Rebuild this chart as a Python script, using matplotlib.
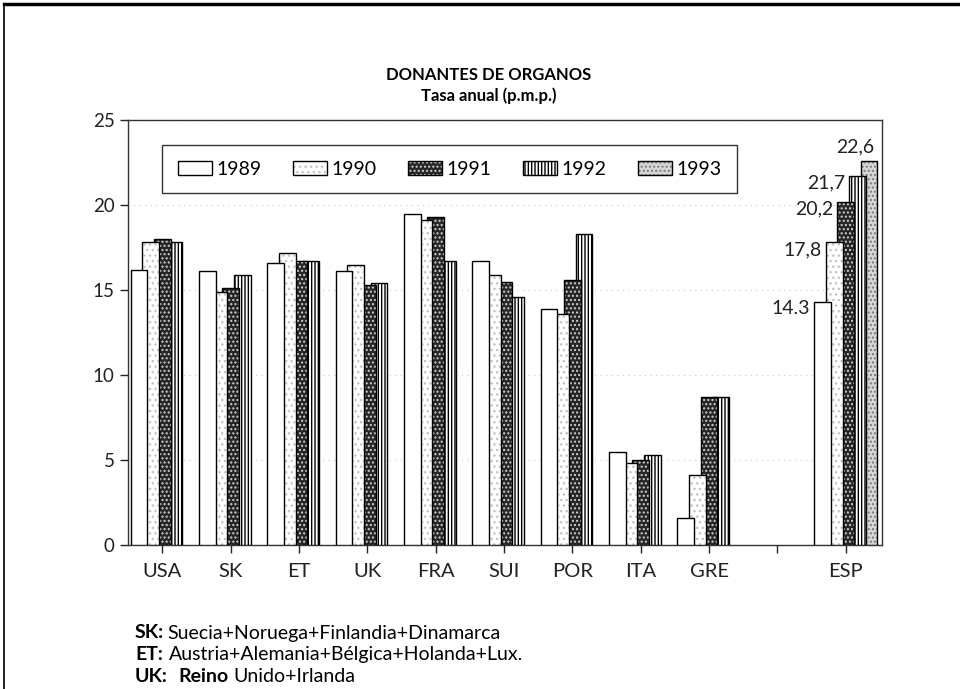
import numpy as np
import matplotlib
matplotlib.use("Agg")
import matplotlib.pyplot as plt
from matplotlib.patches import Patch
from matplotlib.lines import Line2D
from matplotlib.text import Annotation

plt.rcParams['font.family'] = ['Lato', 'DejaVu Sans']
plt.rcParams['hatch.linewidth'] = 1.0

# data
countries = ['USA', 'SK', 'ET', 'UK', 'FRA', 'SUI', 'POR', 'ITA', 'GRE', '', 'ESP']
years = ['1989', '1990', '1991', '1992', '1993']
nan = np.nan
v1989 = [16.2, 16.1, 16.6, 16.1, 19.5, 16.7, 13.9, 5.5, 1.6, nan, 14.3]
v1990 = [17.8, 14.9, 17.2, 16.5, 19.1, 15.9, 13.6, 4.8, 4.1, nan, 17.8]
v1991 = [18.0, 15.1, 16.7, 15.3, 19.3, 15.5, 15.6, 5.0, 8.7, nan, 20.2]
v1992 = [17.8, 15.9, 16.7, 15.4, 16.7, 14.6, 18.3, 5.3, 8.7, nan, 21.7]
v1993 = [nan, nan, nan, nan, nan, nan, nan, nan, nan, nan, 22.6]
esp_labels = ['14.3', '17,8', '20,2', '21,7', '22,6']

series = [v1989, v1990, v1991, v1992, v1993]
# (facecolor, hatch, hatch colour) per year
styles = [
    ('white', None, 'black'),
    ('white', '...', '#c4c4c4'),
    ('#262626', '....', '#d0d0d0'),
    ('white', '|||||', 'black'),
    ('#d6d6d6', '....', '#7a7a7a'),
]

fig = plt.figure(figsize=(9.6, 6.89), dpi=100)
ax = fig.add_axes([128/960, 1-545/689, 754/960, 425/689])

x = np.arange(len(countries))
step = 0.17
width = 0.245
for i, vals in enumerate(series):
    fc, hatch, hc = styles[i]
    pos = x + (i - 2) * step
    z = 20 - 2 * i
    ax.bar(pos, vals, width, color=fc, hatch=hatch, edgecolor=hc, linewidth=0, zorder=z)
    ax.bar(pos, vals, width, fill=False, edgecolor='black', linewidth=1.0, zorder=z + 1)

# value labels for ESP
esp = len(countries) - 1
for i, vals in enumerate(series):
    left = esp + (i - 2) * step - width / 2
    if i < 4:
        ax.annotate(esp_labels[i], (left, vals[esp]), xytext=(-4, -7), textcoords='offset pixels',
                    ha='right', va='center', fontsize=14, color='#222222', zorder=30)
    else:
        ax.annotate(esp_labels[i], (left + width, vals[esp]), xytext=(-3, 14), textcoords='offset pixels',
                    ha='right', va='center', fontsize=14, color='#222222', zorder=30)

ax.set_xlim(-0.5, 10.53)
ax.set_ylim(0, 25)
ax.set_yticks([0, 5, 10, 15, 20, 25])
ax.set_xticks(x)
ax.set_xticklabels(countries)
ax.tick_params(axis='both', direction='out', length=6, width=1, colors='#222222')
ax.tick_params(axis='y', labelsize=13.5)
ax.tick_params(axis='x', labelsize=14.5, pad=7)
ax.yaxis.grid(True, linestyle=(0, (1, 4)), color='#c8c8c8', linewidth=0.8)
ax.set_axisbelow(True)
for s in ax.spines.values():
    s.set_linewidth(1.0)
    s.set_color('#333333')

# legend
handles = []
for i in range(5):
    fc, hatch, hc = styles[i]
    handles.append((Patch(facecolor=fc, hatch=hatch, edgecolor=hc, linewidth=0),
                    Patch(fill=False, edgecolor='black', linewidth=1.0)))
leg = ax.legend(handles, years, ncol=5, loc='upper left',
                bbox_to_anchor=(162/960, 1-145/689), bbox_transform=fig.transFigure,
                borderaxespad=0, fontsize=14, handlelength=1.75, handleheight=0.8,
                handletextpad=0.25, columnspacing=1.6, borderpad=0.8,
                fancybox=False, framealpha=1, edgecolor='#333333')
leg.get_frame().set_linewidth(1.0)
leg.set_zorder(40)

# titles
fig.text(489/960, 1-75/689, 'DONANTES DE ORGANOS', ha='center', va='center',
         fontsize=12, fontweight='bold')
fig.text(489/960, 1-96/689, 'Tasa anual (p.m.p.)', ha='center', va='center',
         fontsize=12, fontweight='bold')

# footnotes: list of (text, bold, gap in px before it)
notes = [
    [('SK:', True, 0), ('Suecia+Noruega+Finlandia+Dinamarca', False, 3)],
    [('ET:', True, 0), ('Austria+Alemania+Bélgica+Holanda+Lux.', False, 6)],
    [('UK:', True, 0), ('Reino', True, 10), ('Unido+Irlanda', False, 5)],
]
for k, parts in enumerate(notes):
    y = 1 - (633 + 21.5 * k) / 689
    prev = None
    for txt, bold, gap in parts:
        w = 'bold' if bold else 'normal'
        if prev is None:
            prev = fig.text(135/960, y, txt, ha='left', va='center', fontsize=14, fontweight=w)
        else:
            prev = fig.add_artist(Annotation(txt, xy=(1, 0.5), xycoords=prev, xytext=(gap, 0),
                                             textcoords='offset pixels', ha='left', va='center',
                                             fontsize=14, fontweight=w))

# page frame
fig.add_artist(Line2D([4/960, 1], [1-4/689, 1-4/689], transform=fig.transFigure, color='black', linewidth=2.5))
fig.add_artist(Line2D([4/960, 4/960], [0, 1-4/689], transform=fig.transFigure, color='black', linewidth=1.2))

fig.savefig('out.png', dpi=100)
